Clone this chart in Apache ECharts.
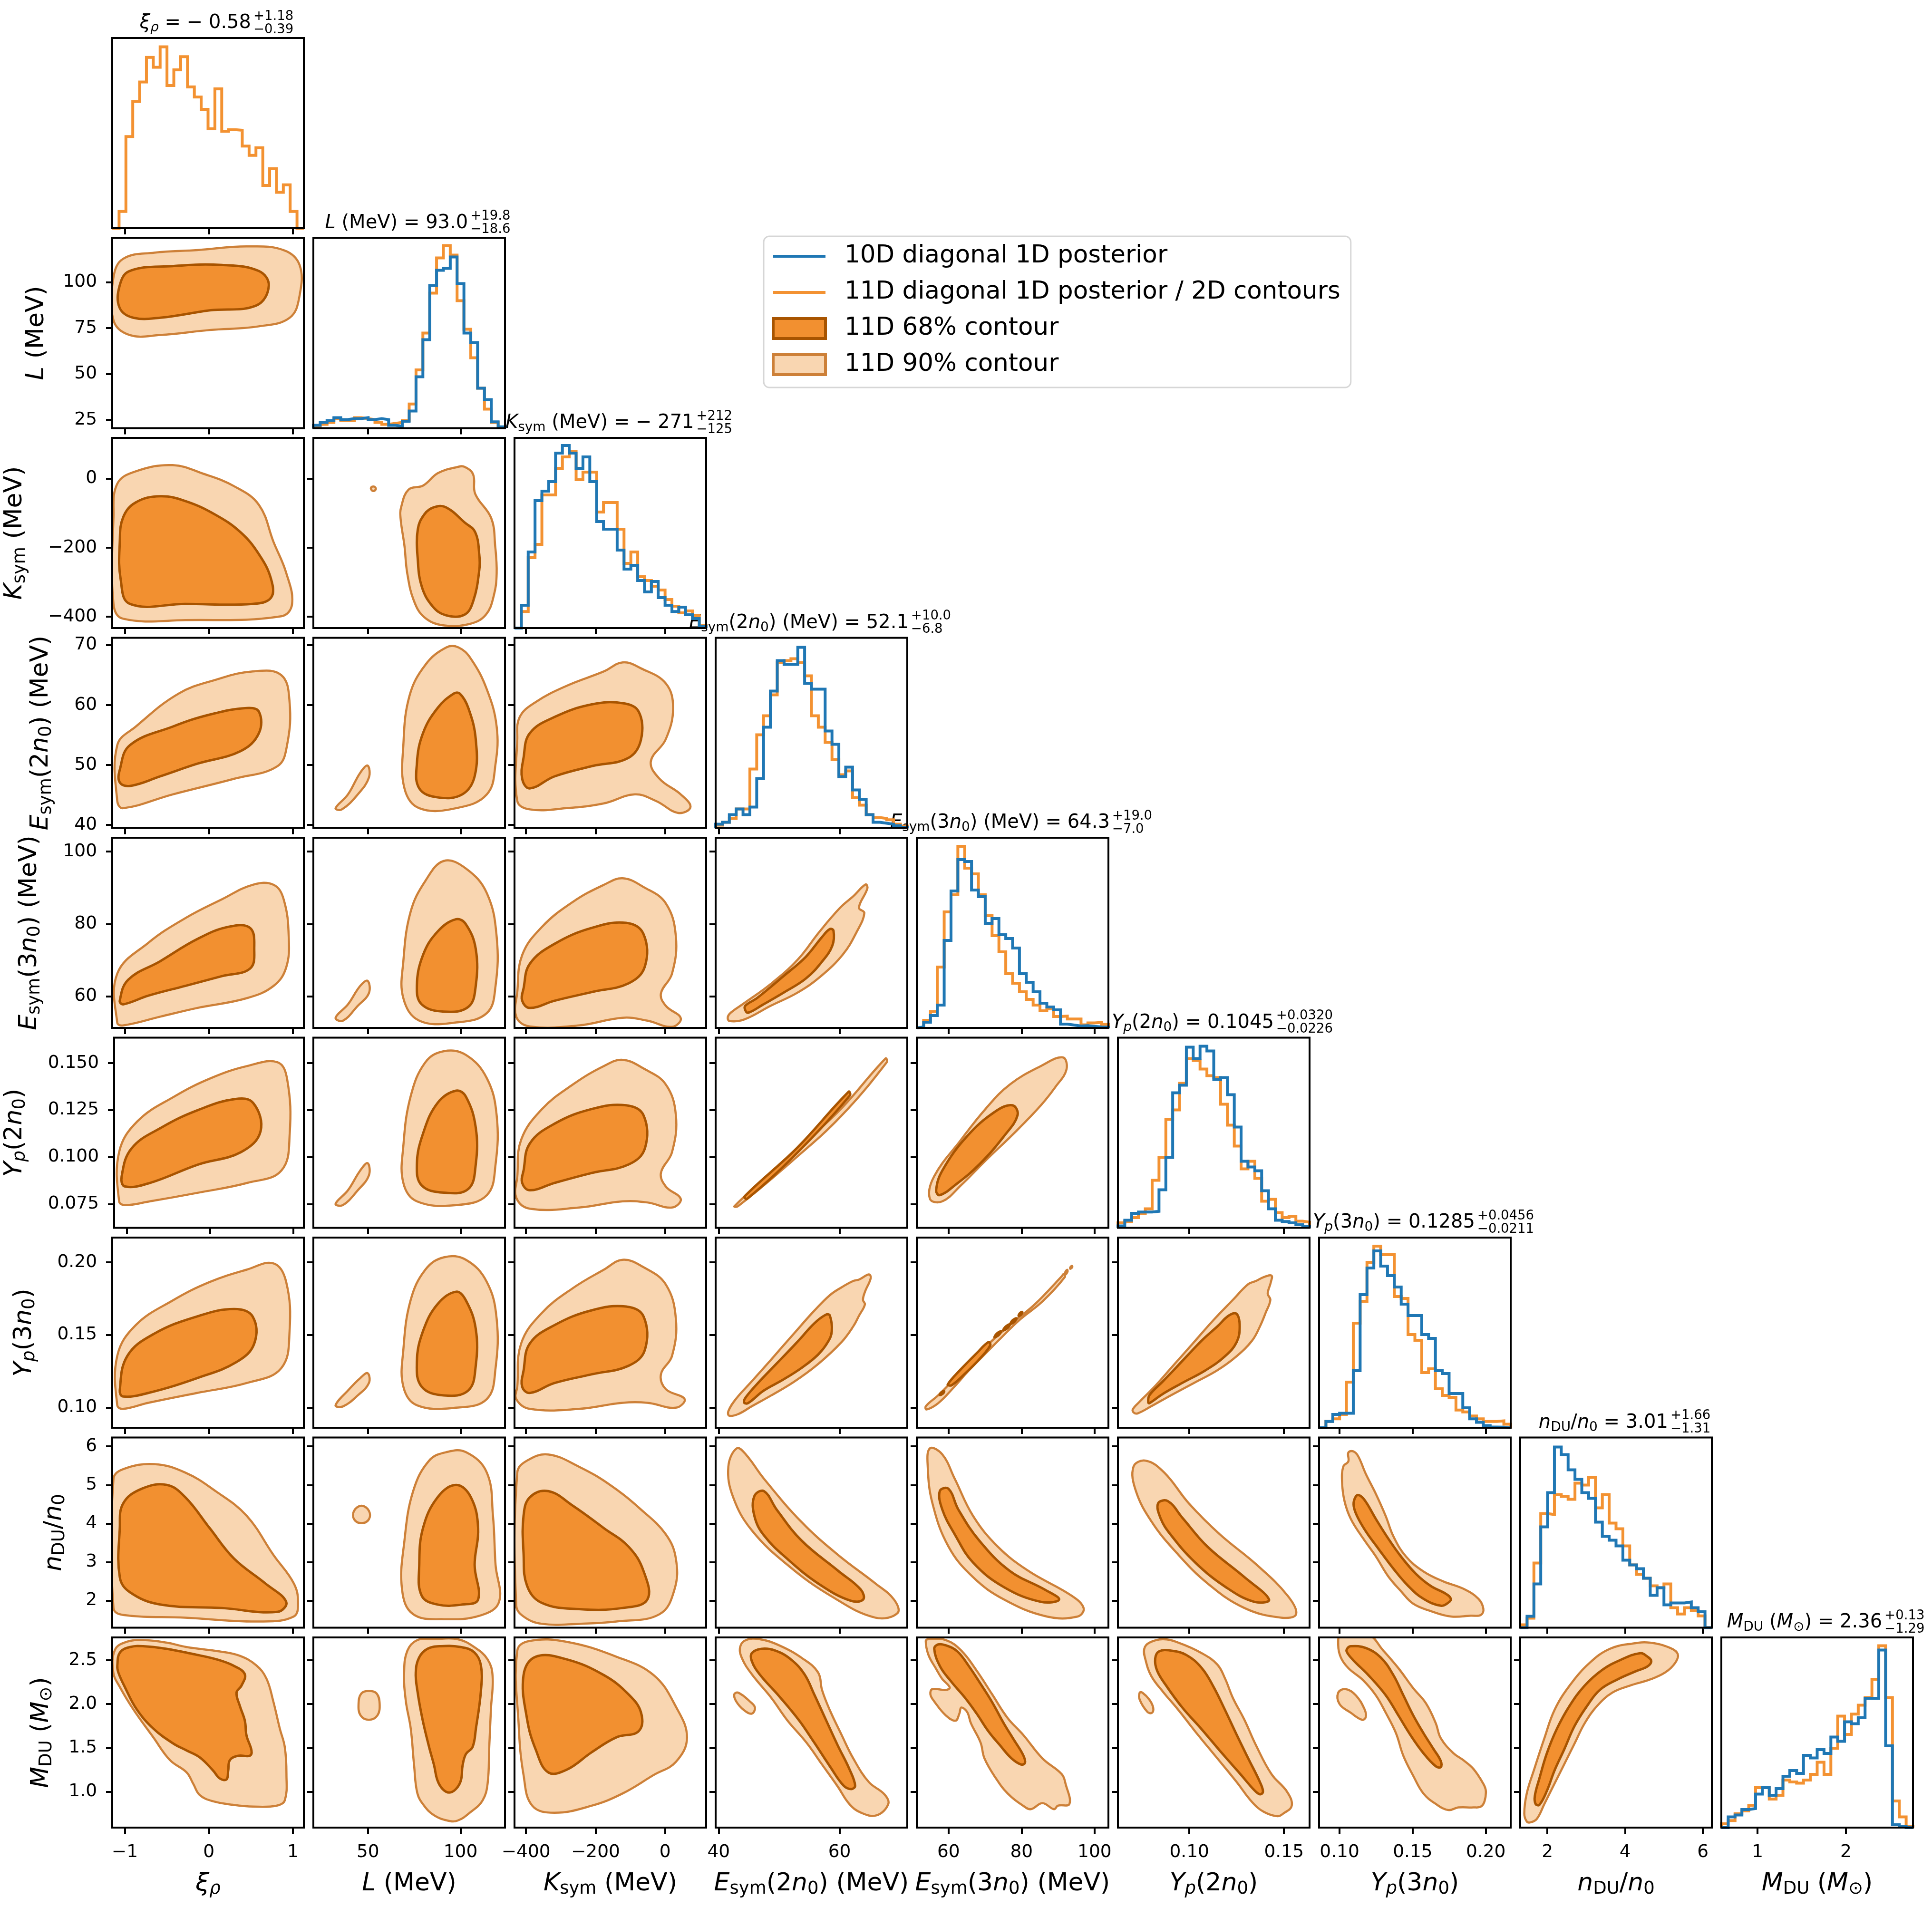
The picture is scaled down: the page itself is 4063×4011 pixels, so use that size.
<!DOCTYPE html>
<html><head><meta charset="utf-8">
<script src="https://cdn.jsdelivr.net/npm/echarts@6/dist/echarts.min.js"></script>
<style>html,body{margin:0;padding:0;background:#fff;}#c{width:4063px;height:4011px;}</style>
</head><body><div id="c"></div>
<script>
// ---------- axis definitions ----------
const axisMin = [-1.15, 20.5, -433, 39.5, 51.3, 0.0623, 0.086, 1.30, 0.59];
const axisMax = [1.13, 124, 118, 71.2, 103.8, 0.1635, 0.217, 6.23, 2.76];
const xTickValues = [[-1,0,1],[50,100],[-400,-200,0],[40,60],[60,80,100],[0.10,0.15],[0.10,0.15,0.20],[2,4,6],[1,2]];
const xTickLabels = [['−1','0','1'],['50','100'],['−400','−200','0'],['40','60'],['60','80','100'],['0.10','0.15'],['0.10','0.15','0.20'],['2','4','6'],['1','2']];
const yTickValues = [[],[25,50,75,100],[-400,-200,0],[40,50,60,70],[60,80,100],[0.075,0.1,0.125,0.15],[0.10,0.15,0.20],[2,3,4,5,6],[1.0,1.5,2.0,2.5]];
const yTickLabels = [[],['25','50','75','100'],['−400','−200','0'],['40','50','60','70'],['60','80','100'],['0.075','0.100','0.125','0.150'],['0.10','0.15','0.20'],['2','3','4','5','6'],['1.0','1.5','2.0','2.5']];
const axisNames = ['{it|ξ}{itsub|ρ}','{it|L} (MeV)','{it|K}{sub|sym} (MeV)','{it|E}{sub|sym}(2{it|n}{sub|0}) (MeV)','{it|E}{sub|sym}(3{it|n}{sub|0}) (MeV)','{it|Y}{itsub|p}(2{it|n}{sub|0})','{it|Y}{itsub|p}(3{it|n}{sub|0})','{it|n}{sub|DU}/{it|n}{sub|0}','{it|M}{sub|DU} ({it|M}{sub|⊙})'];
const titleMain = [
 [['it','ξ'],['itsub','ρ'],['n',' = − 0.58']],
 [['it','L'],['n',' (MeV) = 93.0']],
 [['it','K'],['sub','sym'],['n',' (MeV) = − 271']],
 [['it','E'],['sub','sym'],['n','(2'],['it','n'],['sub','0'],['n',') (MeV) = 52.1']],
 [['it','E'],['sub','sym'],['n','(3'],['it','n'],['sub','0'],['n',') (MeV) = 64.3']],
 [['it','Y'],['itsub','p'],['n','(2'],['it','n'],['sub','0'],['n',') = 0.1045']],
 [['it','Y'],['itsub','p'],['n','(3'],['it','n'],['sub','0'],['n',') = 0.1285']],
 [['it','n'],['sub','DU'],['n','/'],['it','n'],['sub','0'],['n',' = 3.01']],
 [['it','M'],['sub','DU'],['n',' ('],['it','M'],['sub','⊙'],['n',') = 2.36']]
];
const titleUp = ['+1.18','+19.8','+212','+10.0','+19.0','+0.0320','+0.0456','+1.66','+0.13'];
const titleDown = ['−0.39','−18.6','−125','−6.8','−7.0','−0.0226','−0.0211','−1.31','−1.29'];
const legendNames = ['10D diagonal 1D posterior','11D diagonal 1D posterior / 2D contours','11D 68% contour','11D 90% contour'];
const binCount = 28;

// ---------- 1D histograms (fraction of panel height) ----------
const h11_xi = [0,0.088,0.482,0.667,0.769,0.898,0.846,0.954,0.75,0.833,0.902,0.743,0.69,0.625,0.523,0.733,0.51,0.518,0.515,0.432,0.383,0.423,0.225,0.313,0.189,0.228,0.088,0];
const h10_L = [0.015,0.03,0.04,0.055,0.045,0.05,0.05,0.055,0.045,0.05,0.045,0.015,0.01,0.036,0.09,0.27,0.465,0.75,0.83,0.84,0.90,0.76,0.50,0.45,0.21,0.15,0.033,0.007];
const h11_L = [0.01,0.02,0.03,0.05,0.04,0.04,0.055,0.05,0.045,0.03,0.02,0.025,0.03,0.04,0.127,0.306,0.50,0.71,0.895,0.96,0.91,0.67,0.52,0.37,0.21,0.10,0.03,0.005];
const h10_Ksym = [0,0.12,0.40,0.67,0.72,0.77,0.92,0.96,0.92,0.84,0.90,0.77,0.56,0.52,0.52,0.41,0.31,0.33,0.25,0.19,0.245,0.16,0.12,0.087,0.11,0.07,0.05,0.01];
const h11_Ksym = [0,0.087,0.37,0.44,0.70,0.70,0.84,0.90,0.93,0.78,0.82,0.82,0.61,0.66,0.66,0.52,0.34,0.40,0.27,0.25,0.22,0.20,0.15,0.115,0.08,0.09,0.065,0.015];
const h10_Esym2 = [0.02,0.03,0.07,0.10,0.07,0.11,0.26,0.53,0.72,0.88,0.86,0.86,0.95,0.76,0.73,0.73,0.51,0.44,0.27,0.32,0.20,0.15,0.07,0.03,0.025,0.02,0.012,0.004];
const h11_Esym2 = [0.015,0.03,0.05,0.10,0.10,0.31,0.49,0.59,0.70,0.87,0.88,0.89,0.87,0.80,0.59,0.53,0.45,0.36,0.28,0.30,0.16,0.12,0.07,0.055,0.05,0.043,0.02,0.01];
const h10_Esym3 = [0.005,0.03,0.065,0.12,0.46,0.72,0.885,0.875,0.725,0.69,0.55,0.575,0.49,0.47,0.42,0.285,0.24,0.19,0.13,0.11,0.095,0.02,0.015,0.01,0.012,0.008,0.005,0.004];
const h11_Esym3 = [0.004,0.04,0.086,0.32,0.61,0.70,0.955,0.84,0.81,0.70,0.59,0.485,0.40,0.285,0.235,0.19,0.15,0.12,0.09,0.10,0.06,0.062,0.047,0.047,0.016,0.026,0.029,0.019];
const h10_Yp2 = [0.01,0.04,0.076,0.083,0.083,0.087,0.20,0.37,0.71,0.75,0.95,0.89,0.955,0.93,0.78,0.79,0.70,0.53,0.35,0.32,0.30,0.195,0.10,0.04,0.033,0.026,0.016,0.009];
const h11_Yp2 = [0.026,0.033,0.054,0.076,0.10,0.25,0.37,0.57,0.62,0.76,0.89,0.88,0.835,0.80,0.79,0.65,0.54,0.43,0.31,0.35,0.26,0.14,0.15,0.08,0.054,0.06,0.035,0.03];
const h10_Yp3 = [0,0.033,0.07,0.076,0.076,0.30,0.70,0.84,0.93,0.85,0.80,0.74,0.65,0.59,0.59,0.49,0.47,0.30,0.285,0.18,0.18,0.105,0.047,0.029,0.011,0.004,0.003,0];
const h11_Yp3 = [0,0.033,0.047,0.07,0.24,0.55,0.665,0.87,0.955,0.91,0.91,0.69,0.68,0.49,0.46,0.29,0.31,0.205,0.17,0.16,0.093,0.083,0.062,0.047,0.033,0.033,0.036,0.019];
const h10_nDU = [0,0.06,0.23,0.53,0.71,0.95,0.91,0.83,0.78,0.71,0.68,0.555,0.48,0.46,0.43,0.355,0.33,0.31,0.26,0.17,0.21,0.12,0.13,0.13,0.135,0.105,0.084,0];
const h11_nDU = [0.015,0.05,0.34,0.60,0.595,0.70,0.69,0.675,0.76,0.75,0.79,0.63,0.70,0.55,0.52,0.43,0.33,0.28,0.26,0.22,0.21,0.23,0.105,0.072,0.105,0.09,0.062,0];
const h10_MDU = [0,0.056,0.066,0.095,0.10,0.176,0.21,0.17,0.205,0.27,0.30,0.285,0.38,0.366,0.41,0.39,0.476,0.454,0.556,0.546,0.578,0.68,0.68,0.934,0.43,0.015,0.007,0];
const h11_MDU = [0.02,0.037,0.073,0.088,0.117,0.21,0.21,0.15,0.17,0.25,0.24,0.234,0.25,0.28,0.344,0.28,0.417,0.586,0.49,0.597,0.644,0.684,0.78,0.956,0.684,0.14,0.056,0.007];

// ---------- 2D contours (vertices in data units: [x, y]) ----------
const c90_r1c0 = [[[-1.135,102.6],[-1.018,112.7],[-0.651,116.0],[-0.138,117.4],[0.449,119.4],[0.889,117.4],[1.079,109.3],[1.079,92.6],[0.962,80.6],[0.595,75.9],[0.009,73.9],[-0.578,71.2],[-0.944,71.2],[-1.135,79.2]]];
const c68_r1c0 = [[[-1.062,98.0],[-0.944,106.0],[-0.431,108.7],[0.155,109.3],[0.595,106.0],[0.713,98.0],[0.566,87.3],[0.009,84.6],[-0.578,80.6],[-0.9,80.6],[-1.062,86.0]]];
const c90_r2c0 = [[[-1.09,-15],[-0.87,21],[-0.43,39],[-0.065,14],[0.30,-22],[0.595,-76],[0.77,-184],[0.92,-273],[0.99,-363],[0.86,-399],[-0.28,-410],[-1.02,-406],[-1.135,-363],[-1.135,-112]]];
const c68_r2c0 = [[[-1.02,-112],[-0.87,-69],[-0.58,-51],[-0.28,-65],[0.08,-105],[0.375,-155],[0.595,-219],[0.74,-291],[0.74,-345],[0.52,-363],[-0.28,-363],[-0.94,-363],[-1.05,-291],[-1.06,-184]]];
const c90_r2c1 = [[[98.6,34],[87.8,16],[79.8,-20],[71.9,-32],[67.9,-83],[67.6,-115],[69.7,-195],[71.2,-274],[74.8,-354],[80.5,-402],[90.6,-425],[105,-421],[113.7,-394],[118,-338],[119.5,-274],[118.7,-195],[116.6,-115],[107.9,-44],[106.8,12],[102.2,34]],[[52.9,-23],[54.0,-26],[54.1,-32],[52.9,-36],[51.8,-32],[51.7,-26]]];
const c68_r2c1 = [[[85.6,-83],[80.5,-103],[76.9,-147],[76.9,-235],[79.1,-314],[84.9,-370],[92.1,-396],[102.2,-394],[106.9,-354],[110.1,-266],[110.1,-219],[107.9,-155],[102.2,-127],[92.1,-83]]];
const c90_r3c0 = [[[-1.09,44.0],[-1.09,53.3],[-0.87,56.4],[-0.36,61.9],[0.08,64.2],[0.52,65.6],[0.86,65.0],[0.96,60.5],[0.93,53.3],[0.815,49.8],[0.30,47.7],[-0.43,45.1],[-1.02,42.8]]];
const c68_r3c0 = [[[-1.06,49.2],[-0.94,53.3],[-0.43,56.4],[0.01,58.4],[0.45,59.5],[0.595,58.9],[0.595,55.3],[0.375,52.3],[-0.14,50.2],[-0.58,48.1],[-0.94,46.5],[-1.06,47.1]]];
const c90_r3c1 = [[[92.3,69.6],[81.0,66.7],[72.4,61.5],[69.1,53.3],[69.7,46.1],[77.7,42.8],[97.6,42.8],[114.2,45.1],[118.9,50.2],[119.5,56.4],[114.2,62.6],[105.6,67.7],[98.9,69.6]],[[32.5,42.8],[39.2,45.1],[45.8,48.7],[49.8,49.9],[50.5,47.9],[44.5,45.1],[35.9,42.6]]];
const c68_r3c1 = [[[96.3,61.9],[87.6,59.5],[79.7,55.3],[76.4,50.2],[77.7,46.1],[87.6,44.6],[100.9,45.1],[107.6,48.1],[108.2,54.3],[104.2,59.5],[99.6,61.9]]];
const c90_r3c2 = [[[-425,54.3],[-418,58.0],[-372,60.5],[-283,63.2],[-176,65.6],[-122,67.1],[-69,66.1],[2,63.6],[23,59.5],[2,54.3],[-41,50.6],[-16,47.7],[45,45.1],[73,43.0],[38,42.0],[-26,44.0],[-87,45.1],[-176,43.6],[-283,42.8],[-389,42.6],[-425,44.0]]];
const c68_r3c2 = [[[-407,51.2],[-389,55.3],[-318,58.0],[-211,60.1],[-122,60.3],[-76,58.9],[-69,54.3],[-105,51.2],[-211,49.8],[-318,48.1],[-389,46.1],[-411,47.7]]];
const c90_r4c0 = [[[-1.09,52.7],[-1.09,66.3],[-0.72,74.8],[-0.28,81.6],[0.155,86.8],[0.52,90.8],[0.77,90.8],[0.89,86.8],[0.95,76.5],[0.92,68.0],[0.77,62.9],[0.45,59.5],[-0.14,56.8],[-0.58,54.4],[-1.02,52.0]]];
const c68_r4c0 = [[[-1.06,58.8],[-0.96,64.6],[-0.58,69.7],[-0.14,75.8],[0.23,79.2],[0.49,78.9],[0.54,73.1],[0.49,67.7],[0.155,65.6],[-0.28,62.9],[-0.72,60.2],[-1.02,57.8]]];
const c90_r4c1 = [[[91.0,97.4],[81.0,91.9],[73.0,83.3],[69.1,69.7],[69.1,59.5],[77.7,53.3],[97.6,52.8],[114.2,55.4],[118.9,62.9],[119.5,76.5],[114.2,88.5],[102.9,95.3]],[[32.5,54.1],[39.2,57.8],[45.8,62.9],[49.8,64.3],[50.5,60.9],[44.5,57.4],[36.5,53.3]]];
const c68_r4c1 = [[[97.6,81.3],[87.6,77.9],[79.7,71.4],[76.4,62.9],[79.0,57.8],[91.0,55.8],[104.2,57.1],[108.2,62.9],[108.2,73.1],[102.9,79.9]]];
const c90_r4c2 = [[[-425,61.2],[-411,71.4],[-354,79.2],[-265,86.1],[-176,90.8],[-122,92.6],[-62,90.2],[2,85.7],[31,76.5],[20,66.3],[-12,60.8],[2,57.4],[45,54.0],[20,51.6],[-51,53.3],[-122,54.1],[-247,52.0],[-389,51.7],[-428,54.4]]];
const c68_r4c2 = [[[-407,62.2],[-389,69.0],[-318,74.5],[-211,78.9],[-112,80.3],[-62,77.2],[-58,68.3],[-105,63.6],[-211,61.2],[-318,58.8],[-389,56.8],[-411,58.8]]];
const c90_r4c3 = [[[41.5,54.2],[42.0,55.5],[44.2,58.1],[48.6,63.4],[53.1,70.2],[56.6,77.7],[60.1,84.5],[62.3,87.7],[64.3,90.9],[64.6,89.8],[63.2,84.5],[64.1,83.0],[62.8,77.7],[60.6,71.7],[57.0,65.7],[53.1,61.1],[48.6,57.4],[44.2,53.6],[41.8,53.2]]];
const c68_r4c3 = [[[44.4,57.4],[46.4,59.6],[50.8,65.7],[54.4,70.9],[57.0,76.2],[58.4,78.6],[59.0,78.1],[58.8,74.0],[57.0,69.4],[54.4,64.9],[50.8,61.1],[47.3,57.7],[44.9,55.5],[44.4,56.2]]];
const c90_r5c0 = [[[-1.09,0.0764],[-1.09,0.1026],[-0.87,0.119],[-0.43,0.1321],[0.01,0.1419],[0.45,0.1484],[0.815,0.1504],[0.93,0.1412],[0.96,0.1124],[0.86,0.0928],[0.45,0.0862],[-0.14,0.0810],[-0.72,0.0764],[-1.02,0.0744]]];
const c68_r5c0 = [[[-1.06,0.0895],[-0.94,0.1046],[-0.58,0.1157],[-0.14,0.125],[0.30,0.1308],[0.52,0.1288],[0.61,0.1137],[0.375,0.1026],[-0.14,0.096],[-0.72,0.0862],[-1.02,0.0843]]];
const c90_r5c1 = [[[91.0,0.1563],[81.0,0.1504],[73.0,0.1321],[69.1,0.1059],[69.1,0.0862],[76.4,0.0764],[97.6,0.0744],[114.2,0.0797],[118.9,0.096],[119.5,0.1222],[114.2,0.1419],[102.9,0.1543]],[[32.5,0.0751],[39.2,0.0823],[45.8,0.0928],[49.8,0.0967],[50.5,0.0902],[44.5,0.0823],[36.5,0.0744]]];
const c68_r5c1 = [[[97.6,0.1353],[87.6,0.1288],[79.7,0.1124],[76.4,0.096],[79.0,0.0849],[91.0,0.081],[104.2,0.083],[108.2,0.096],[108.2,0.1157],[102.9,0.1321]]];
const c90_r5c2 = [[[-425,0.0895],[-414,0.1091],[-354,0.1255],[-265,0.1386],[-176,0.1484],[-122,0.1517],[-62,0.1471],[2,0.1386],[31,0.1222],[20,0.1026],[-12,0.0915],[2,0.0843],[45,0.0777],[20,0.0731],[-51,0.0758],[-122,0.0764],[-247,0.0731],[-389,0.0725],[-428,0.0784]]];
const c68_r5c2 = [[[-407,0.0928],[-389,0.1072],[-318,0.1177],[-211,0.1255],[-112,0.1275],[-62,0.1222],[-58,0.1046],[-105,0.096],[-211,0.0915],[-318,0.0862],[-389,0.0823],[-411,0.0862]]];
const c90_r5c3 = [[[42.6,0.0738],[51.6,0.1006],[59.8,0.1242],[67.6,0.1524],[67.8,0.1504],[60.2,0.1216],[52.0,0.0974],[43.2,0.0738]]];
const c68_r5c3 = [[[44.3,0.0791],[52.9,0.1046],[61.5,0.1347],[61.7,0.1327],[53.1,0.1026],[44.7,0.0777]]];
const c90_r5c4 = [[[54.9,0.0777],[56.0,0.0895],[63.4,0.1091],[70.1,0.1255],[76.8,0.1386],[85.3,0.1484],[91.3,0.153],[92.3,0.1465],[89.3,0.1373],[85.3,0.1275],[78.5,0.1137],[70.1,0.098],[63.4,0.0849],[58.3,0.0764]]];
const c68_r5c4 = [[[56.6,0.0823],[58.3,0.0928],[65.1,0.1111],[72.8,0.1242],[77.5,0.1275],[78.9,0.1222],[75.2,0.1111],[68.4,0.096],[61.7,0.0849],[57.6,0.0797]]];
const c90_r6c0 = [[[-1.09,0.1015],[-1.09,0.1355],[-0.87,0.1567],[-0.43,0.1737],[0.01,0.1864],[0.45,0.1949],[0.77,0.1992],[0.92,0.1864],[0.96,0.1525],[0.86,0.127],[0.45,0.1168],[-0.14,0.11],[-0.72,0.1032],[-1.02,0.099]]];
const c68_r6c0 = [[[-1.06,0.1117],[-0.97,0.1355],[-0.65,0.1508],[-0.14,0.1627],[0.30,0.1678],[0.52,0.1627],[0.54,0.144],[0.33,0.1313],[-0.14,0.1202],[-0.72,0.11],[-1.02,0.1075]]];
const c90_r6c1 = [[[91.0,0.2034],[81.0,0.1949],[73.0,0.1737],[69.1,0.1397],[69.1,0.1143],[76.4,0.1015],[97.6,0.0998],[114.2,0.1058],[118.9,0.127],[119.5,0.161],[114.2,0.1864],[102.9,0.2017]],[[32.5,0.1015],[39.2,0.1117],[45.8,0.1202],[49.8,0.1236],[50.5,0.1168],[44.5,0.1083],[36.5,0.1007]]];
const c68_r6c1 = [[[97.6,0.1797],[87.6,0.1712],[79.7,0.1525],[76.4,0.1313],[79.0,0.1143],[91.0,0.1083],[104.2,0.1117],[108.2,0.1287],[108.2,0.1542],[102.9,0.1737]]];
const c90_r6c2 = [[[-425,0.1143],[-414,0.144],[-354,0.1652],[-265,0.1822],[-176,0.1949],[-122,0.2017],[-62,0.1966],[2,0.1847],[31,0.161],[20,0.1355],[-12,0.1228],[2,0.1126],[56,0.1058],[31,0.0998],[-51,0.1032],[-122,0.1032],[-247,0.099],[-389,0.099],[-428,0.1058]]];
const c68_r6c2 = [[[-407,0.1253],[-389,0.144],[-318,0.1567],[-211,0.1669],[-112,0.1695],[-62,0.1627],[-58,0.1397],[-105,0.1287],[-211,0.1228],[-318,0.1168],[-389,0.11],[-411,0.1143]]];
const c90_r6c3 = [[[41.74,0.0943],[41.61,0.0975],[42.90,0.1061],[45.48,0.118],[48.71,0.1331],[52.58,0.1515],[55.81,0.1666],[58.39,0.1773],[60.32,0.1827],[62.26,0.1871],[63.23,0.1881],[64.84,0.1916],[65.16,0.1892],[64.19,0.1795],[63.87,0.1741],[64.19,0.1709],[63.23,0.1633],[62.26,0.1558],[60.32,0.145],[56.45,0.1299],[52.58,0.118],[48.71,0.1083],[45.48,0.1008],[43.23,0.0954]]];
const c68_r6c3 = [[[44.19,0.1035],[44.52,0.1072],[46.77,0.118],[50.0,0.132],[53.23,0.1461],[55.81,0.1579],[57.74,0.1639],[58.39,0.1633],[58.71,0.1525],[58.06,0.145],[56.45,0.1364],[53.87,0.1277],[50.65,0.1191],[47.42,0.1115],[44.84,0.1029]]];
const c90_r6c4 = [[[53.97,0.0986],[53.76,0.1008],[57.14,0.1083],[61.38,0.1191],[66.67,0.1331],[71.96,0.1461],[77.25,0.1579],[83.6,0.1709],[91.0,0.1903],[91.53,0.1919],[91.85,0.1898],[85.71,0.173],[79.37,0.1601],[74.07,0.1471],[69.84,0.1364],[65.61,0.1256],[61.38,0.1137],[57.14,0.1029]],[[92.0,0.1915],[92.6,0.1935],[92.5,0.1948],[91.9,0.1928]],[[93.4,0.1955],[93.9,0.1966],[93.8,0.1975],[93.3,0.1962]]];
const c68_r6c4 = [[[59.79,0.1159],[63.49,0.1266],[67.72,0.1374],[70.9,0.145],[71.43,0.1428],[68.78,0.1342],[64.55,0.1234],[60.85,0.1153]],[[72.6,0.1483],[73.8,0.15],[74.4,0.1525],[73.2,0.1508]],[[75.0,0.1531],[76.2,0.1548],[76.8,0.1573],[75.6,0.1556]],[[77.0,0.1576],[78.1,0.1591],[78.6,0.1614],[77.5,0.1599]],[[79.2,0.163],[79.9,0.164],[80.2,0.1658],[79.5,0.1648]],[[57.6,0.1085],[58.5,0.1096],[58.8,0.1113],[57.9,0.1102]]];
const c90_r6c5 = [[[0.0707,0.0964],[0.0701,0.0986],[0.0738,0.104],[0.082,0.1148],[0.0922,0.1299],[0.1025,0.145],[0.1127,0.1601],[0.123,0.1741],[0.1311,0.1849],[0.1352,0.1871],[0.1393,0.1898],[0.1434,0.1908],[0.143,0.186],[0.1414,0.1784],[0.1428,0.1741],[0.1404,0.1655],[0.1373,0.1558],[0.1332,0.1461],[0.125,0.1353],[0.1148,0.1256],[0.1025,0.1169],[0.0902,0.1083],[0.0799,0.1008],[0.0727,0.0959]]];
const c68_r6c5 = [[[0.0783,0.1035],[0.0789,0.1083],[0.0861,0.118],[0.0963,0.132],[0.1066,0.1461],[0.1148,0.1558],[0.1209,0.1633],[0.125,0.1644],[0.1266,0.1558],[0.125,0.145],[0.1189,0.1353],[0.1086,0.1256],[0.0963,0.1169],[0.0861,0.1094],[0.0789,0.1029]]];
const c90_r7c0 = [[[-1.135,5.16],[-1.02,5.41],[-0.65,5.54],[-0.28,5.32],[0.08,4.84],[0.45,4.20],[0.77,3.18],[1.01,2.45],[1.06,1.97],[1.01,1.59],[0.595,1.46],[-0.28,1.56],[-1.02,1.63],[-1.135,1.81]]];
const c68_r7c0 = [[[-1.06,3.88],[-1.02,4.52],[-0.80,4.90],[-0.50,5.0],[-0.28,4.68],[0.01,3.88],[0.30,3.09],[0.67,2.45],[0.92,1.97],[0.815,1.71],[0.155,1.81],[-0.58,1.90],[-0.94,2.22],[-1.06,2.61]]];
const c90_r7c1 = [[[92.3,5.85],[83.0,5.63],[74.4,4.84],[69.7,3.56],[68.4,2.29],[74.4,1.65],[91.0,1.52],[110.9,1.62],[120.8,1.97],[118.9,2.93],[117.5,4.20],[114.2,5.32],[102.9,5.85]],[[46.5,4.46],[50.5,4.33],[50.5,4.11],[46.5,4.01],[42.5,4.11],[42.5,4.33]]];
const c68_r7c1 = [[[97.6,5.0],[87.6,4.68],[79.7,3.88],[77.7,2.93],[79.0,2.13],[87.6,1.90],[100.9,1.90],[109.5,2.03],[107.6,2.93],[109.5,3.88],[105.6,4.68]]];
const c90_r7c2 = [[[-425,5.32],[-397,5.63],[-336,5.79],[-247,5.47],[-158,5.0],[-69,4.36],[2,3.72],[31,3.09],[27,2.29],[-16,1.65],[-140,1.46],[-247,1.40],[-354,1.40],[-407,1.59],[-428,1.88]]];
const c68_r7c2 = [[[-407,4.20],[-389,4.68],[-336,4.84],[-265,4.46],[-176,3.88],[-105,3.40],[-62,2.77],[-51,2.03],[-122,1.81],[-247,1.78],[-354,1.94],[-397,2.39],[-407,3.24]]];
const c90_r7c3 = [[[43.0,5.95],[44.5,5.79],[47.5,5.16],[53.7,4.04],[59.8,3.18],[65.9,2.45],[69.0,2.03],[69.6,1.68],[65.9,1.56],[58.8,2.10],[51.6,2.90],[45.5,3.82],[42.4,4.68],[41.6,5.47]]];
const c68_r7c3 = [[[45.9,4.71],[47.5,4.84],[49.6,4.36],[53.7,3.56],[59.8,2.77],[63.5,2.29],[63.9,2.03],[61.8,2.0],[56.7,2.42],[51.6,3.05],[47.5,3.69],[45.9,4.20]]];
const c90_r7c4 = [[[54.9,5.95],[58.3,5.79],[61.7,5.16],[66.7,4.20],[73.5,3.40],[81.9,2.77],[93.7,2.13],[97.0,1.81],[95.4,1.59],[86.9,1.59],[75.2,2.03],[66.7,2.61],[60.0,3.40],[55.6,4.52],[54.3,5.47]]];
const c68_r7c4 = [[[57.6,4.84],[60.0,4.90],[62.7,4.36],[68.4,3.56],[76.8,2.77],[86.3,2.29],[90.3,2.03],[85.3,1.97],[75.2,2.35],[66.7,2.99],[61.7,3.72],[58.3,4.36]]];
const c90_r7c5 = [[[0.0705,5.47],[0.077,5.63],[0.0868,5.32],[0.0998,4.52],[0.1161,3.72],[0.1356,2.93],[0.1519,2.13],[0.1564,1.65],[0.1486,1.56],[0.1291,1.81],[0.1096,2.45],[0.0933,3.24],[0.0802,4.04],[0.0718,4.84]]];
const c68_r7c5 = [[[0.0835,4.52],[0.0887,4.58],[0.0965,4.14],[0.1096,3.40],[0.1291,2.61],[0.1421,2.03],[0.1343,1.97],[0.1193,2.35],[0.1031,2.99],[0.09,3.72],[0.0848,4.14]]];
const c90_r7c6 = [[[0.106,5.84],[0.1094,5.87],[0.1128,5.74],[0.1179,5.29],[0.1248,4.77],[0.1316,4.19],[0.1368,3.67],[0.1453,3.15],[0.1573,2.76],[0.1709,2.50],[0.1846,2.31],[0.1949,2.05],[0.1983,1.79],[0.1966,1.63],[0.1897,1.61],[0.1761,1.59],[0.1624,1.73],[0.1504,1.92],[0.1419,2.25],[0.1333,2.63],[0.1248,3.15],[0.1162,3.61],[0.1077,4.12],[0.1034,4.58],[0.1017,5.09],[0.1026,5.48],[0.106,5.61]]];
const c68_r7c6 = [[[0.1103,4.64],[0.1128,4.74],[0.1171,4.61],[0.1248,4.12],[0.1333,3.61],[0.1419,3.15],[0.1521,2.70],[0.1624,2.38],[0.1726,2.18],[0.1761,2.05],[0.1744,1.95],[0.1692,1.87],[0.1573,2.05],[0.147,2.38],[0.1368,2.83],[0.1265,3.35],[0.1179,3.80],[0.112,4.19],[0.1097,4.45]]];
const c90_r8c0 = [[[-1.137,2.36],[-1.117,2.62],[-0.978,2.71],[-0.78,2.73],[-0.50,2.70],[-0.265,2.65],[0.13,2.60],[0.368,2.55],[0.566,2.44],[0.685,2.29],[0.764,2.04],[0.844,1.72],[0.903,1.51],[0.923,1.20],[0.903,0.90],[0.804,0.84],[0.527,0.83],[0.289,0.85],[0.05,0.89],[-0.107,0.96],[-0.186,1.09],[-0.265,1.22],[-0.463,1.36],[-0.661,1.62],[-0.899,1.94],[-1.057,2.19]]];
const c68_r8c0 = [[[-1.089,2.44],[-1.057,2.59],[-0.939,2.65],[-0.78,2.66],[-0.503,2.63],[-0.186,2.57],[0.091,2.51],[0.289,2.44],[0.428,2.34],[0.388,2.21],[0.329,2.13],[0.368,1.98],[0.428,1.81],[0.448,1.64],[0.507,1.47],[0.487,1.41],[0.349,1.41],[0.25,1.36],[0.23,1.24],[0.21,1.14],[0.131,1.15],[0.051,1.24],[-0.107,1.39],[-0.265,1.47],[-0.424,1.55],[-0.661,1.72],[-0.859,1.94],[-0.998,2.19],[-1.077,2.36]]];
const c90_r8c1 = [[[76.7,2.73],[85.7,2.74],[98.4,2.74],[107.4,2.65],[114.6,2.51],[117.3,2.32],[116.4,1.94],[115.5,1.51],[114.6,1.09],[111.9,0.90],[105.6,0.77],[98.4,0.67],[93.0,0.67],[85.7,0.73],[80.3,0.84],[76.7,0.98],[74.9,1.30],[73.1,1.72],[70.4,2.04],[69.5,2.36],[71.3,2.61]],[[50.5,2.15],[54.7,2.12],[56.3,2.0],[55.1,1.87],[50.5,1.82],[46.0,1.87],[44.9,2.0],[46.4,2.12]]];
const c68_r8c1 = [[[77.6,2.53],[82.1,2.63],[89.4,2.66],[100.2,2.65],[107.4,2.59],[111.0,2.44],[111.0,2.15],[108.3,1.72],[106.5,1.51],[102.9,1.43],[101.1,1.30],[100.2,1.13],[97.5,1.03],[93.9,0.99],[90.3,1.03],[87.5,1.13],[85.7,1.30],[83.0,1.51],[79.4,1.83],[76.7,2.15],[75.8,2.36]]];
const c90_r8c2 = [[[-425,2.61],[-389,2.72],[-283,2.71],[-140,2.54],[-33,2.33],[31,1.97],[63,1.62],[31,1.34],[-33,1.19],[-122,0.98],[-211,0.84],[-318,0.76],[-382,0.84],[-407,1.19],[-421,1.76]]];
const c68_r8c2 = [[[-407,2.33],[-372,2.54],[-283,2.51],[-176,2.33],[-105,2.11],[-69,1.90],[-76,1.69],[-140,1.62],[-211,1.45],[-283,1.25],[-336,1.22],[-372,1.48],[-397,1.83]]];
const c90_r8c3 = [[[43.55,2.65],[44.52,2.73],[46.77,2.74],[50.0,2.67],[53.87,2.52],[56.45,2.36],[57.1,2.16],[58.39,1.93],[60.32,1.65],[62.26,1.38],[64.84,1.11],[67.42,0.97],[68.06,0.86],[66.13,0.73],[63.55,0.76],[61.61,0.86],[59.68,1.06],[57.1,1.31],[54.52,1.56],[51.29,1.82],[48.71,2.07],[45.48,2.34],[43.87,2.52]],[[42.58,2.11],[43.23,2.13],[45.16,2.03],[46.0,1.96],[45.48,1.89],[44.19,1.93],[42.9,2.03]]];
const c68_r8c3 = [[[45.48,2.58],[47.1,2.63],[49.35,2.61],[51.94,2.51],[54.19,2.34],[55.81,2.11],[57.74,1.82],[59.68,1.53],[61.61,1.26],[62.58,1.07],[61.94,1.03],[60.65,1.07],[58.39,1.29],[55.81,1.56],[53.23,1.82],[50.0,2.09],[46.77,2.34],[45.48,2.49]]];
const c90_r8c4 = [[[53.76,2.72],[54.5,2.74],[59.26,2.73],[63.49,2.61],[67.72,2.38],[71.96,2.11],[76.19,1.84],[80.42,1.65],[85.71,1.38],[91.0,1.20],[92.06,1.09],[93.12,0.86],[89.95,0.84],[88.89,0.80],[85.71,0.87],[82.54,0.80],[80.42,0.84],[76.19,0.98],[73.02,1.15],[69.84,1.38],[68.78,1.56],[66.14,1.78],[65.08,1.91],[63.49,1.96],[62.96,1.89],[61.9,1.81],[59.26,1.87],[56.08,2.03],[55.03,2.11],[55.56,2.17],[59.26,2.16],[60.32,2.19],[58.2,2.29],[56.61,2.40],[54.5,2.56]]];
const c68_r8c4 = [[[56.08,2.63],[57.14,2.68],[59.26,2.67],[62.43,2.60],[65.61,2.43],[68.78,2.23],[71.96,2.02],[75.13,1.78],[77.78,1.60],[80.42,1.42],[80.95,1.33],[79.89,1.31],[77.25,1.38],[74.07,1.53],[70.9,1.69],[67.72,1.89],[64.55,2.07],[60.85,2.25],[57.67,2.43]]];
const c90_r8c5 = [[[0.0762,2.63],[0.0789,2.70],[0.0861,2.74],[0.0943,2.70],[0.1066,2.58],[0.1148,2.45],[0.1189,2.29],[0.123,2.07],[0.1291,1.82],[0.1352,1.53],[0.1434,1.20],[0.1516,1.00],[0.1541,0.84],[0.1496,0.75],[0.1465,0.72],[0.1393,0.77],[0.1332,0.88],[0.125,1.11],[0.1148,1.38],[0.1045,1.65],[0.0943,1.93],[0.0861,2.14],[0.0799,2.32],[0.0768,2.51]],[[0.0738,2.13],[0.0752,2.13],[0.0789,2.05],[0.0809,1.96],[0.0803,1.90],[0.0779,1.91],[0.0738,2.05]]];
const c68_r8c5 = [[[0.082,2.52],[0.084,2.60],[0.0902,2.61],[0.0984,2.56],[0.1066,2.41],[0.1127,2.20],[0.1189,1.93],[0.125,1.65],[0.1311,1.38],[0.1373,1.11],[0.1389,1.00],[0.1373,0.97],[0.1342,1.02],[0.127,1.20],[0.1168,1.45],[0.1066,1.71],[0.0963,1.96],[0.0881,2.20],[0.083,2.38]]];
const c90_r8c6 = [[[0.0991,2.67],[0.1009,2.79],[0.1197,2.79],[0.1299,2.61],[0.1402,2.41],[0.1504,2.18],[0.159,2.01],[0.1658,1.78],[0.1692,1.61],[0.1778,1.44],[0.1846,1.36],[0.1915,1.26],[0.1983,1.09],[0.2,1.01],[0.1991,0.89],[0.1966,0.83],[0.1915,0.82],[0.1812,0.82],[0.1744,0.79],[0.1658,0.86],[0.1573,0.98],[0.1504,1.18],[0.1436,1.41],[0.1385,1.67],[0.1316,1.90],[0.1248,2.10],[0.1162,2.27],[0.106,2.41],[0.1009,2.53]],[[0.0991,2.13],[0.1043,2.17],[0.1111,2.10],[0.1171,1.94],[0.1179,1.85],[0.1154,1.82],[0.1077,1.90],[0.1,2.0]]];
const c68_r8c6 = [[[0.1051,2.63],[0.1077,2.66],[0.1179,2.64],[0.1282,2.53],[0.1368,2.33],[0.1436,2.10],[0.1504,1.87],[0.1573,1.67],[0.1641,1.49],[0.1692,1.35],[0.1692,1.28],[0.1658,1.29],[0.1573,1.44],[0.1487,1.64],[0.1402,1.87],[0.1316,2.10],[0.1197,2.33],[0.1094,2.50],[0.1051,2.59]]];
const c90_r8c7 = [[[1.469,0.66],[1.405,0.75],[1.469,0.98],[1.663,1.26],[1.922,1.61],[2.181,1.93],[2.57,2.21],[3.087,2.47],[3.605,2.63],[4.188,2.69],[4.641,2.70],[5.159,2.64],[5.353,2.57],[5.288,2.47],[5.029,2.36],[4.641,2.28],[4.123,2.21],[3.67,2.13],[3.282,1.98],[2.958,1.78],[2.699,1.55],[2.44,1.32],[2.181,1.09],[1.922,0.86],[1.728,0.69],[1.566,0.65]]];
const c68_r8c7 = [[[1.696,0.86],[1.676,0.95],[1.793,1.15],[1.987,1.44],[2.246,1.72],[2.57,1.98],[2.958,2.21],[3.411,2.39],[3.864,2.50],[4.382,2.58],[4.576,2.54],[4.673,2.49],[4.576,2.43],[4.252,2.37],[3.799,2.28],[3.346,2.16],[3.023,1.98],[2.699,1.75],[2.44,1.49],[2.181,1.24],[1.987,1.01],[1.793,0.85]]];

// ---------- assembly ----------
const FONT = 'DejaVu Sans';
const BLUE = '#1f77b4', ORANGE = '#f39232';
const FILL68 = '#f29030', EDGE68 = '#a85400', FILL90 = '#f9d6b1', EDGE90 = '#cd8038';
const hist11 = [h11_xi,h11_L,h11_Ksym,h11_Esym2,h11_Esym3,h11_Yp2,h11_Yp3,h11_nDU,h11_MDU];
const hist10 = [null,h10_L,h10_Ksym,h10_Esym2,h10_Esym3,h10_Yp2,h10_Yp3,h10_nDU,h10_MDU];
const contourList = [
 [1,0,c90_r1c0,c68_r1c0],
 [2,0,c90_r2c0,c68_r2c0],[2,1,c90_r2c1,c68_r2c1],
 [3,0,c90_r3c0,c68_r3c0],[3,1,c90_r3c1,c68_r3c1],[3,2,c90_r3c2,c68_r3c2],
 [4,0,c90_r4c0,c68_r4c0],[4,1,c90_r4c1,c68_r4c1],[4,2,c90_r4c2,c68_r4c2],[4,3,c90_r4c3,c68_r4c3],
 [5,0,c90_r5c0,c68_r5c0],[5,1,c90_r5c1,c68_r5c1],[5,2,c90_r5c2,c68_r5c2],[5,3,c90_r5c3,c68_r5c3],[5,4,c90_r5c4,c68_r5c4],
 [6,0,c90_r6c0,c68_r6c0],[6,1,c90_r6c1,c68_r6c1],[6,2,c90_r6c2,c68_r6c2],[6,3,c90_r6c3,c68_r6c3],[6,4,c90_r6c4,c68_r6c4],[6,5,c90_r6c5,c68_r6c5],
 [7,0,c90_r7c0,c68_r7c0],[7,1,c90_r7c1,c68_r7c1],[7,2,c90_r7c2,c68_r7c2],[7,3,c90_r7c3,c68_r7c3],[7,4,c90_r7c4,c68_r7c4],[7,5,c90_r7c5,c68_r7c5],[7,6,c90_r7c6,c68_r7c6],
 [8,0,c90_r8c0,c68_r8c0],[8,1,c90_r8c1,c68_r8c1],[8,2,c90_r8c2,c68_r8c2],[8,3,c90_r8c3,c68_r8c3],[8,4,c90_r8c4,c68_r8c4],[8,5,c90_r8c5,c68_r8c5],[8,6,c90_r8c6,c68_r8c6],[8,7,c90_r8c7,c68_r8c7]
];

const PX = {left0:236, dx:423, top0:80, dy:420.5, w:403, h:400};
const yNameGap = [0, 129, 175, 120, 144, 179, 155, 92, 119];
const nameRich = {
  it:{fontStyle:'italic', fontSize:52, fontFamily:FONT, lineHeight:60},
  sub:{fontSize:37, fontFamily:FONT, lineHeight:32, verticalAlign:'bottom'},
  itsub:{fontStyle:'italic', fontSize:37, fontFamily:FONT, lineHeight:32, verticalAlign:'bottom'}
};
function nameStyle(){ return {fontSize:52, fontFamily:FONT, color:'#000', lineHeight:60, rich:nameRich}; }
function labelFmt(vals, labs){ return v => { for (let k=0;k<vals.length;k++) if (Math.abs(vals[k]-v) < 1e-9) return labs[k]; return ''; }; }

const grids=[], xAxes=[], yAxes=[], series=[], gidx={};
let g=0;
for (let i=0;i<9;i++) for (let j=0;j<=i;j++) {
  gidx[i+'_'+j]=g;
  grids.push({left:PX.left0+PX.dx*j, top:PX.top0+PX.dy*i, width:PX.w, height:PX.h, show:true, borderColor:'#000', borderWidth:4, backgroundColor:'transparent', z:10});
  xAxes.push({type:'value', gridIndex:g, min:axisMin[j], max:axisMax[j],
    axisLine:{show:false, onZero:false}, splitLine:{show:false},
    axisTick:{show:true, inside:false, length:13, lineStyle:{color:'#000', width:4}, customValues:xTickValues[j]},
    axisLabel:{show:i===8, customValues:xTickValues[j], formatter:labelFmt(xTickValues[j],xTickLabels[j]), fontSize:37.5, fontFamily:FONT, color:'#000', margin:33},
    name:i===8?axisNames[j]:'', nameLocation:'middle', nameGap:88, nameTextStyle:nameStyle()});
  if (i===j) {
    yAxes.push({type:'value', gridIndex:g, min:0, max:1, axisLine:{show:false, onZero:false}, axisTick:{show:false}, axisLabel:{show:false}, splitLine:{show:false}});
  } else {
    yAxes.push({type:'value', gridIndex:g, min:axisMin[i], max:axisMax[i],
      axisLine:{show:false, onZero:false}, splitLine:{show:false},
      axisTick:{show:true, inside:false, length:13, lineStyle:{color:'#000', width:4}, customValues:yTickValues[i]},
      axisLabel:{show:j===0, customValues:yTickValues[i], formatter:labelFmt(yTickValues[i],yTickLabels[i]), fontSize:37.5, fontFamily:FONT, color:'#000', margin:32},
      name:j===0?axisNames[i]:'', nameLocation:'middle', nameRotate:90, nameGap:yNameGap[i], nameTextStyle:nameStyle()});
  }
  g++;
}

// histograms
function stepData(j, h){
  const w=(axisMax[j]-axisMin[j])/binCount, pts=[[axisMin[j],0]];
  for (let k=0;k<binCount;k++) pts.push([axisMin[j]+k*w, h[k]]);
  pts.push([axisMax[j], h[binCount-1]]); pts.push([axisMax[j],0]);
  return pts;
}
for (let j=0;j<9;j++){
  const gi=gidx[j+'_'+j];
  series.push({type:'line', name:legendNames[1], xAxisIndex:gi, yAxisIndex:gi, data:stepData(j,hist11[j]), step:'end', symbol:'none', clip:true,
    lineStyle:{color:ORANGE, width:6, join:'miter'}, itemStyle:{color:ORANGE}, silent:true, z:3});
  if (hist10[j]) series.push({type:'line', name:legendNames[0], xAxisIndex:gi, yAxisIndex:gi, data:stepData(j,hist10[j]), step:'end', symbol:'none', clip:true,
    lineStyle:{color:BLUE, width:6, join:'miter'}, itemStyle:{color:BLUE}, silent:true, z:4});
}
// contours
function contourSeries(name, polys, gi, j, i, fill, stroke, lw, z){
  return {type:'custom', name, xAxisIndex:gi, yAxisIndex:gi, clip:true, silent:true, z,
    data:[[axisMin[j], axisMin[i]]],
    itemStyle:{color:fill, borderColor:stroke, borderWidth:6},
    renderItem:(params, api) => ({type:'group', children: polys.map(poly => ({
      type:'polygon', shape:{points: poly.map(p => api.coord(p)), smooth:0.4},
      style:{fill, stroke, lineWidth:lw}}))})};
}
contourList.forEach(([i,j,p90,p68]) => {
  const gi=gidx[i+'_'+j];
  series.push(contourSeries(legendNames[3], p90, gi, j, i, FILL90, EDGE90, 4.5, 2));
  series.push(contourSeries(legendNames[2], p68, gi, j, i, FILL68, EDGE68, 5, 3));
});

// titles over diagonal panels
const mctx=document.createElement('canvas').getContext('2d');
function tw(text, italic, size){ mctx.font=(italic?'italic ':'')+size+'px "DejaVu Sans"'; return mctx.measureText(text).width; }
const titleRich = {
  n:{fontSize:40, fontFamily:FONT, lineHeight:48},
  it:{fontStyle:'italic', fontSize:40, fontFamily:FONT, lineHeight:48},
  sub:{fontSize:28, fontFamily:FONT, lineHeight:24, verticalAlign:'bottom'},
  itsub:{fontStyle:'italic', fontSize:28, fontFamily:FONT, lineHeight:24, verticalAlign:'bottom'}
};
const graphic=[];
for (let j=0;j<9;j++){
  const segs=titleMain[j];
  let wMain=0;
  segs.forEach(([s,t]) => { wMain += tw(t, s.indexOf('it')===0, s.indexOf('sub')>=0 ? 28 : 40); });
  const wScr=Math.max(tw(titleUp[j],false,27.5), tw(titleDown[j],false,27.5));
  const top=PX.top0+PX.dy*j, cx=PX.left0+PX.dx*j+PX.w/2+18;
  const x0=cx-(wMain+5+wScr)/2;
  const rich=segs.map(([s,t]) => '{'+s+'|'+t+'}').join('');
  graphic.push({type:'text', x:x0, y:top-30.9, silent:true, style:{text:rich, rich:titleRich, fill:'#000', fontSize:40, fontFamily:FONT, lineHeight:48, align:'left', verticalAlign:'middle', textAlign:'left', textVerticalAlign:'middle'}});
  graphic.push({type:'text', x:x0+wMain+5, y:top-45.2, silent:true, style:{text:titleUp[j], fill:'#000', fontSize:27.5, fontFamily:FONT, align:'left', verticalAlign:'middle', textAlign:'left', textVerticalAlign:'middle'}});
  graphic.push({type:'text', x:x0+wMain+5, y:top-17.2, silent:true, style:{text:titleDown[j], fill:'#000', fontSize:27.5, fontFamily:FONT, align:'left', verticalAlign:'middle', textAlign:'left', textVerticalAlign:'middle'}});
}

// legend handle for the line entries: a 6px bar centred in a 110x42 box
const LINE_ICON = 'path://M0,0M0,18H110V24H0ZM110,42';
const chart=echarts.init(document.getElementById('c'), null, {renderer:'canvas', width:4063, height:4011});
chart.setOption({
  animation:false, backgroundColor:'#fff',
  grid:grids, xAxis:xAxes, yAxis:yAxes, series, graphic,
  legend:{orient:'vertical', left:1606, top:497, padding:[16,22,22,17], itemWidth:110, itemHeight:42, itemGap:24,
    borderColor:'#d6d6d6', borderWidth:3, borderRadius:12, backgroundColor:'#fff', selectedMode:false,
    textStyle:{fontSize:51.5, fontFamily:FONT, color:'#000', padding:[0,0,0,35]},
    data:[{name:legendNames[0], icon:LINE_ICON, itemStyle:{color:BLUE, borderWidth:0, opacity:1}},
          {name:legendNames[1], icon:LINE_ICON, itemStyle:{color:ORANGE, borderWidth:0, opacity:1}},
          {name:legendNames[2], icon:'rect', itemStyle:{color:FILL68, borderColor:EDGE68, borderWidth:6}},
          {name:legendNames[3], icon:'rect', itemStyle:{color:FILL90, borderColor:EDGE90, borderWidth:6}}]}
});
</script></body></html>
